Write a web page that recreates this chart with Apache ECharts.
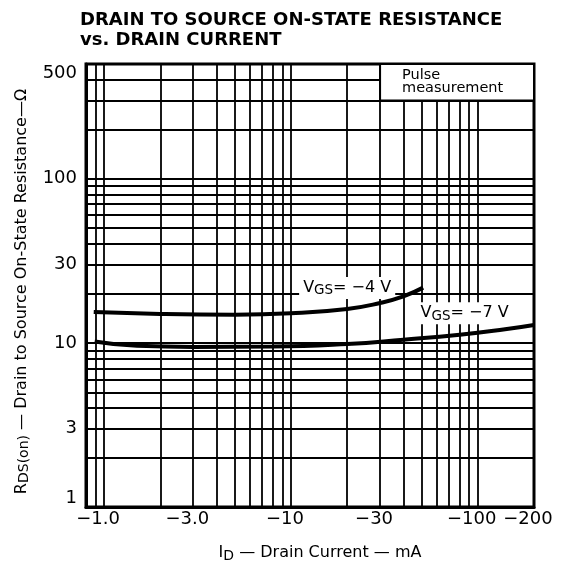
<!DOCTYPE html>
<html><head><meta charset="utf-8">
<script src="https://cdn.jsdelivr.net/npm/echarts@6/dist/echarts.min.js"></script>
<style>html,body{margin:0;padding:0;background:#fff}#c{width:561px;height:568px}</style>
</head><body><div id="c"></div>
<script>
// ---- data ----
const xTickValues = [1, 3, 10, 30, 100, 200];
const xTickLabels = ['−1.0', '−3.0', '−10', '−30', '−100', '−200'];
const yTickValues = [1, 3, 10, 30, 100, 500];
const yTickLabels = ['1', '3', '10', '30', '100', '500'];
const xGridValues = [0.9, 1, 2, 3, 4, 5, 6, 7, 8, 9, 10, 20, 30, 40, 50, 60, 70, 80, 90, 100];
const yGridValues = [2, 3, 4, 5, 6, 7, 8, 9, 10, 20, 30, 40, 50, 60, 70, 80, 90, 100, 200, 300, 400];
const idVgs4 = [0.88, 2, 5, 10, 20, 30, 40, 51];
const rdsVgs4 = [15.4, 15.0, 14.85, 15.15, 16.1, 17.5, 19.2, 21.7];
const idVgs7 = [0.89, 1.5, 3, 8, 20, 40, 80, 140, 200];
const rdsVgs7 = [10.2, 9.6, 9.45, 9.5, 9.85, 10.45, 11.2, 12.1, 12.85];
const labelVgs4 = [20, 21.6];
const labelVgs7 = [85, 15.15];
const pulseBox = [[30, 300], [200, 500]];

const FONT = 'DejaVu Sans';
const pairs = (xs, ys) => xs.map((x, i) => [x, ys[i]]);
const lookup = (vals, labels) => v => {
  let best = 0;
  vals.forEach((t, i) => { if (Math.abs(Math.log(t) - Math.log(v)) < Math.abs(Math.log(vals[best]) - Math.log(v))) best = i; });
  return labels[best];
};
const nameRich = {
  m: { fontFamily: FONT, fontSize: 16, color: '#000', lineHeight: 20, verticalAlign: 'middle' },
  s: { fontFamily: FONT, fontSize: 14, color: '#000', lineHeight: 12, verticalAlign: 'bottom' }
};
const curveLabelRich = {
  v: { fontFamily: FONT, fontSize: 16, color: '#000', lineHeight: 20, verticalAlign: 'middle' },
  s: { fontFamily: FONT, fontSize: 13.5, color: '#000', lineHeight: 12, verticalAlign: 'bottom' }
};

const chart = echarts.init(document.getElementById('c'), null, { renderer: 'canvas' });
chart.setOption({
  animation: false,
  backgroundColor: '#fff',
  title: {
    text: 'DRAIN TO SOURCE ON-STATE RESISTANCE\nvs. DRAIN CURRENT',
    left: 80, top: 10, padding: 0,
    textStyle: { fontFamily: FONT, fontWeight: 'bold', fontSize: 18, lineHeight: 20, color: '#000' }
  },
  grid: {
    left: 86, right: 27, top: 64, bottom: 61,
    containLabel: false, outerBoundsMode: 'none',
    show: true, borderColor: '#000', borderWidth: 3, backgroundColor: 'transparent'
  },
  xAxis: {
    type: 'log', logBase: 10, min: 0.8, max: 200,
    name: '{m|I}{s|D}{m| — Drain Current — mA}',
    nameLocation: 'middle', nameGap: 36,
    nameTextStyle: { rich: nameRich, padding: [0, 0, 0, 20] },
    axisLine: { show: true, lineStyle: { color: '#000', width: 3 } },
    axisTick: { show: false },
    splitLine: { show: false },
    minorTick: { show: false }, minorSplitLine: { show: false },
    axisLabel: {
      customValues: xTickValues,
      formatter: lookup(xTickValues, xTickLabels),
      fontFamily: FONT, fontSize: 18, color: '#000', margin: 3,
      padding: [0, 12, 0, 0]
    }
  },
  yAxis: {
    type: 'log', logBase: 10, min: 1, max: 500,
    name: '{m|R}{s|DS(on)}{m| — Drain to Source On-State Resistance—Ω}',
    nameLocation: 'middle', nameGap: 52,
    nameTextStyle: { rich: nameRich, padding: [0, 12, 0, 0] },
    axisLine: { show: true, lineStyle: { color: '#000', width: 3 } },
    axisTick: { show: false },
    splitLine: { show: false },
    minorTick: { show: false }, minorSplitLine: { show: false },
    axisLabel: {
      customValues: yTickValues,
      formatter: lookup(yTickValues, yTickLabels),
      fontFamily: FONT, fontSize: 18, color: '#000', margin: 9,
      verticalAlignMinLabel: 'bottom', verticalAlignMaxLabel: 'top'
    }
  },
  series: [
    {
      name: 'grid', type: 'line', data: [], silent: true,
      markLine: {
        silent: true, animation: false, z: 5,
        symbol: ['none', 'none'],
        label: { show: false },
        emphasis: { disabled: true },
        lineStyle: { color: '#000', width: 1.8, type: 'solid' },
        data: [
          ...xGridValues.map(v => ({ xAxis: v })),
          ...yGridValues.map(v => ({ yAxis: v }))
        ]
      },
      markArea: {
        silent: true, animation: false, z: 6,
        itemStyle: { color: '#fff', borderColor: '#000', borderWidth: 2, opacity: 1 },
        label: {
          show: true, position: 'insideLeft', distance: 23,
          formatter: 'Pulse\nmeasurement',
          fontFamily: FONT, fontSize: 14.5, lineHeight: 13, color: '#000'
        },
        data: [[{ xAxis: pulseBox[0][0], yAxis: pulseBox[0][1] }, { xAxis: pulseBox[1][0], yAxis: pulseBox[1][1] }]]
      }
    },
    {
      name: 'VGS = −4 V', type: 'line', z: 10, silent: true,
      data: pairs(idVgs4, rdsVgs4),
      showSymbol: false, symbol: 'none',
      smooth: 0.5,
      lineStyle: { color: '#000', width: 4 },
      markPoint: {
        z: 8, silent: true, animation: false,
        symbol: 'rect', symbolSize: 1, itemStyle: { color: 'rgba(0,0,0,0)' },
        label: {
          show: true, position: 'inside', backgroundColor: '#fff', padding: [1, 4, 1, 4],
          formatter: '{v|V}{s|GS}{v|= −4 V}', rich: curveLabelRich
        },
        data: [{ coord: labelVgs4 }]
      }
    },
    {
      name: 'VGS = −7 V', type: 'line', z: 10, silent: true,
      data: pairs(idVgs7, rdsVgs7),
      showSymbol: false, symbol: 'none',
      smooth: 0.5,
      lineStyle: { color: '#000', width: 4 },
      markPoint: {
        z: 8, silent: true, animation: false,
        symbol: 'rect', symbolSize: 1, itemStyle: { color: 'rgba(0,0,0,0)' },
        label: {
          show: true, position: 'inside', backgroundColor: '#fff', padding: [1, 4, 1, 4],
          formatter: '{v|V}{s|GS}{v|= −7 V}', rich: curveLabelRich
        },
        data: [{ coord: labelVgs7 }]
      }
    }
  ]
});
</script>
</body></html>
